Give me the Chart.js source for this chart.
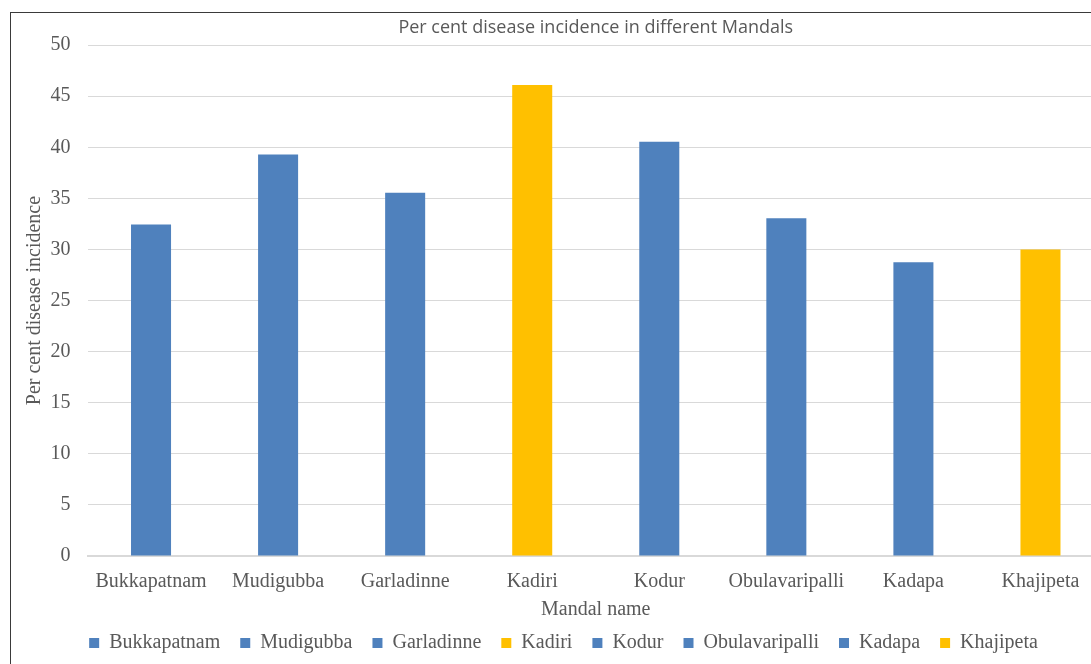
<!DOCTYPE html>
<html>
<head>
<meta charset="utf-8">
<script src="https://cdn.jsdelivr.net/npm/chart.js@4/dist/chart.umd.min.js"></script>
<style>
  html, body { margin: 0; padding: 0; background: #ffffff; overflow: hidden; width: 1091px; height: 664px; }
  #frame { position: absolute; left: 10px; top: 12px; width: 1150px; height: 700px;
           border-left: 1px solid #3a3a3a; border-top: 1px solid #3a3a3a; background: #fff; }
  #c { display: block; }
</style>
</head>
<body>
<div id="frame"><canvas id="c" width="1150" height="650"></canvas></div>
<script>
// ---- data ----
const categories = ["Bukkapatnam", "Mudigubba", "Garladinne", "Kadiri", "Kodur", "Obulavaripalli", "Kadapa", "Khajipeta"];
const incidence = [32.45, 39.3, 35.55, 46.1, 40.55, 33.05, 28.75, 30.0];
const groups = ["blue", "blue", "blue", "yellow", "blue", "blue", "blue", "yellow"];
const yTicks = [0, 5, 10, 15, 20, 25, 30, 35, 40, 45, 50];
const chartTitle = "Per cent disease incidence in different Mandals";
const xTitle = "Mandal name";
const yTitle = "Per cent disease incidence";

// ---- styles ----
const palette = { blue: "#4F81BD", yellow: "#FFC000" };
const barColors = groups.map(g => palette[g]);
const textColor = "#595959";
const serif = "'Liberation Serif', 'Times New Roman', serif";

new Chart(document.getElementById("c"), {
  type: "bar",
  data: {
    labels: categories,
    datasets: [{
      label: yTitle,
      data: incidence,
      backgroundColor: barColors,
      borderWidth: 0,
      categoryPercentage: 1.0,
      barPercentage: 0.315
    }]
  },
  options: {
    responsive: false,
    animation: false,
    layout: { padding: { left: 12, right: 57, top: 0, bottom: 0 } },
    plugins: {
      title: {
        display: true,
        fullSize: false,
        text: chartTitle,
        color: textColor,
        font: { family: "'Open Sans', sans-serif", size: 18, weight: "normal" },
        padding: { top: 4, bottom: 6.5 }
      },
      legend: {
        display: true,
        position: "bottom",
        labels: {
          color: textColor,
          font: { family: serif, size: 20 },
          boxWidth: 10,
          boxHeight: 10,
          padding: 20,
          generateLabels: () => categories.map((c, i) => ({
            text: c,
            fillStyle: barColors[i],
            strokeStyle: barColors[i],
            lineWidth: 0,
            hidden: false,
            index: i,
            fontColor: textColor
          }))
        }
      },
      tooltip: { enabled: false }
    },
    scales: {
      x: {
        grid: { display: false, drawTicks: false },
        border: { display: true, color: "#d9d9d9", width: 2 },
        ticks: { color: textColor, font: { family: serif, size: 20 }, padding: 14, maxRotation: 0, autoSkip: false },
        title: { display: true, text: xTitle, color: textColor, font: { family: serif, size: 20 }, padding: { top: 0, bottom: -9 } },
        afterFit: s => { s.height = 57; }
      },
      y: {
        min: 0,
        max: 50,
        afterBuildTicks: s => { s.ticks = yTicks.map(v => ({ value: v })); },
        grid: { color: "#d9d9d9", lineWidth: 1, drawTicks: false },
        border: { display: false },
        ticks: { color: textColor, font: { family: serif, size: 20 }, padding: 17 },
        title: { display: true, text: yTitle, color: textColor, font: { family: serif, size: 20 }, padding: { top: 0, bottom: 0 } },
        afterFit: s => { s.width = 64.5; }
      }
    }
  }
});
</script>
</body>
</html>
